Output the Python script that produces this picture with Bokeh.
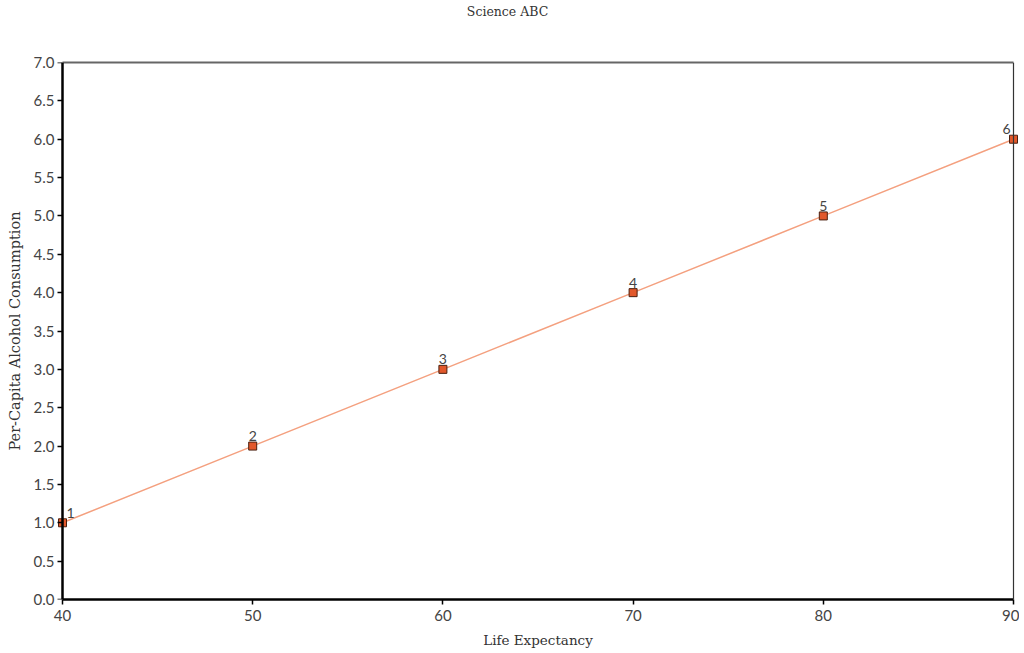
from bokeh.plotting import figure
from bokeh.models import (ColumnDataSource, FixedTicker, NumeralTickFormatter, Range1d,
                          LinearAxis)
from bokeh.core.properties import value
from bokeh.embed import file_html
from bokeh.resources import INLINE

title_text = "Science ABC"
life_expectancy = [40, 50, 60, 70, 80, 90]
alcohol = [1.0, 2.0, 3.0, 4.0, 5.0, 6.0]
point_labels = ["1", "2", "3", "4", "5", "6"]
x_ticks = [40, 50, 60, 70, 80, 90]
y_ticks = [0.0, 0.5, 1.0, 1.5, 2.0, 2.5, 3.0, 3.5, 4.0, 4.5, 5.0, 5.5, 6.0, 6.5, 7.0]

# label nudges (style, pixels)
label_dx = [8, 0, 0, 0, 0, -7]

x0, x1 = min(x_ticks), max(x_ticks)
y0, y1 = min(y_ticks), max(y_ticks)
inner_w = 951                      # pixels between x0 and x1
pad_px = 6                         # room so end markers are not clipped
pad = pad_px * (x1 - x0) / inner_w
# title is centred on the page, 30 px left of the plot centre
title_x = round((x0 + x1) / 2 - 31 * (x1 - x0) / inner_w, 1)

p = figure(
    output_backend="svg", toolbar_location=None,
    frame_width=inner_w + 2 * pad_px, frame_height=537,
    min_border_left=62 - pad_px, min_border_right=0, min_border_top=61, min_border_bottom=48,
    x_range=Range1d(x0 - pad, x1 + pad), y_range=Range1d(y0, y1),
)

p.xgrid.visible = False
p.ygrid.visible = False
p.background_fill_color = "white"
p.border_fill_color = "white"
p.outline_line_color = None

TICK_FONT = "Lato"
LABEL_FONT = "DejaVu Serif"

# bottom axis
xa = p.xaxis[0]
xa.bounds = (x0, x1)
xa.ticker = FixedTicker(ticks=x_ticks)
xa.axis_line_color = "black"
xa.axis_line_width = 2.5
xa.major_tick_line_color = "black"
xa.major_tick_line_width = 1.5
xa.major_tick_out = 5
xa.major_tick_in = 0
xa.minor_tick_line_color = None
xa.major_label_text_font = TICK_FONT
xa.major_label_text_font_size = "15px"
xa.major_label_text_color = "#444444"
xa.major_label_standoff = 5
xa.axis_label = "Life Expectancy"
xa.axis_label_text_font = LABEL_FONT
xa.axis_label_text_font_size = "13.5px"
xa.axis_label_text_font_style = "normal"
xa.axis_label_text_color = "#333333"
xa.axis_label_standoff = 8

# left axis: labels only (sits at the frame edge)
ya = p.yaxis[0]
ya.ticker = FixedTicker(ticks=y_ticks)
ya.formatter = NumeralTickFormatter(format="0.0")
ya.axis_line_color = None
ya.major_tick_line_color = None
ya.major_tick_out = 0
ya.major_tick_in = 0
ya.minor_tick_line_color = None
ya.minor_tick_out = 0
ya.minor_tick_in = 0
ya.major_label_text_font = TICK_FONT
ya.major_label_text_font_size = "15px"
ya.major_label_text_color = "#444444"
ya.major_label_standoff = pad_px - 4
ya.axis_label = "Per-Capita Alcohol Consumption"
ya.axis_label_text_font = LABEL_FONT
ya.axis_label_text_font_size = "14.5px"
ya.axis_label_text_font_style = "normal"
ya.axis_label_text_color = "#333333"
ya.axis_label_standoff = 8


def bare_axis(**kw):
    return LinearAxis(ticker=FixedTicker(ticks=[], minor_ticks=[]),
                      major_tick_out=0, major_tick_in=0,
                      minor_tick_out=0, minor_tick_in=0, major_label_standoff=0,
                      major_tick_line_color=None, minor_tick_line_color=None, **kw)


# left axis line + tick marks (as unlabeled minor ticks), drawn exactly at x0
y_line = LinearAxis(ticker=FixedTicker(ticks=[], minor_ticks=y_ticks), fixed_location=x0,
                    axis_line_color="black", axis_line_width=2.5,
                    major_tick_line_color=None, major_tick_out=0, major_tick_in=0,
                    minor_tick_line_color="black", minor_tick_line_width=1.5,
                    minor_tick_out=5, minor_tick_in=0, major_label_standoff=0)
p.add_layout(y_line, "left")

# top border line (from x0 to x1)
top_border = bare_axis(bounds=(x0, x1), axis_line_color="#666666", axis_line_width=2)
p.add_layout(top_border, "above")

# chart title: a single tick label of an invisible axis above the plot
title_axis = LinearAxis(ticker=FixedTicker(ticks=[title_x], minor_ticks=[]),
                        major_label_overrides={title_x: title_text},
                        axis_line_color=None, major_tick_line_color=None,
                        minor_tick_line_color=None, major_tick_out=0, major_tick_in=0,
                        minor_tick_out=0, minor_tick_in=0, major_label_standoff=44,
                        major_label_text_font=LABEL_FONT, major_label_text_font_size="12.5px",
                        major_label_text_color="#333333")
p.add_layout(title_axis, "above")

# right border line at x1
right_border = bare_axis(fixed_location=x1, axis_line_color="#333333", axis_line_width=1.2)
p.add_layout(right_border, "right")

src = ColumnDataSource(dict(x=life_expectancy, y=alcohol, lab=point_labels, dx=label_dx))
p.line("x", "y", source=src, line_color="#F4A07F", line_width=1.5)
p.scatter("x", "y", source=src, marker="square", size=8,
          fill_color="#E2582B", line_color="#4a2010", line_width=1)
p.text("x", "y", text="lab", source=src, x_offset="dx", y_offset=-5,
       text_align="center", text_baseline="bottom", text_font=value("Lato"),
       text_font_size="14px", text_color="#444444")

open("out.html", "w").write(file_html(p, INLINE))
